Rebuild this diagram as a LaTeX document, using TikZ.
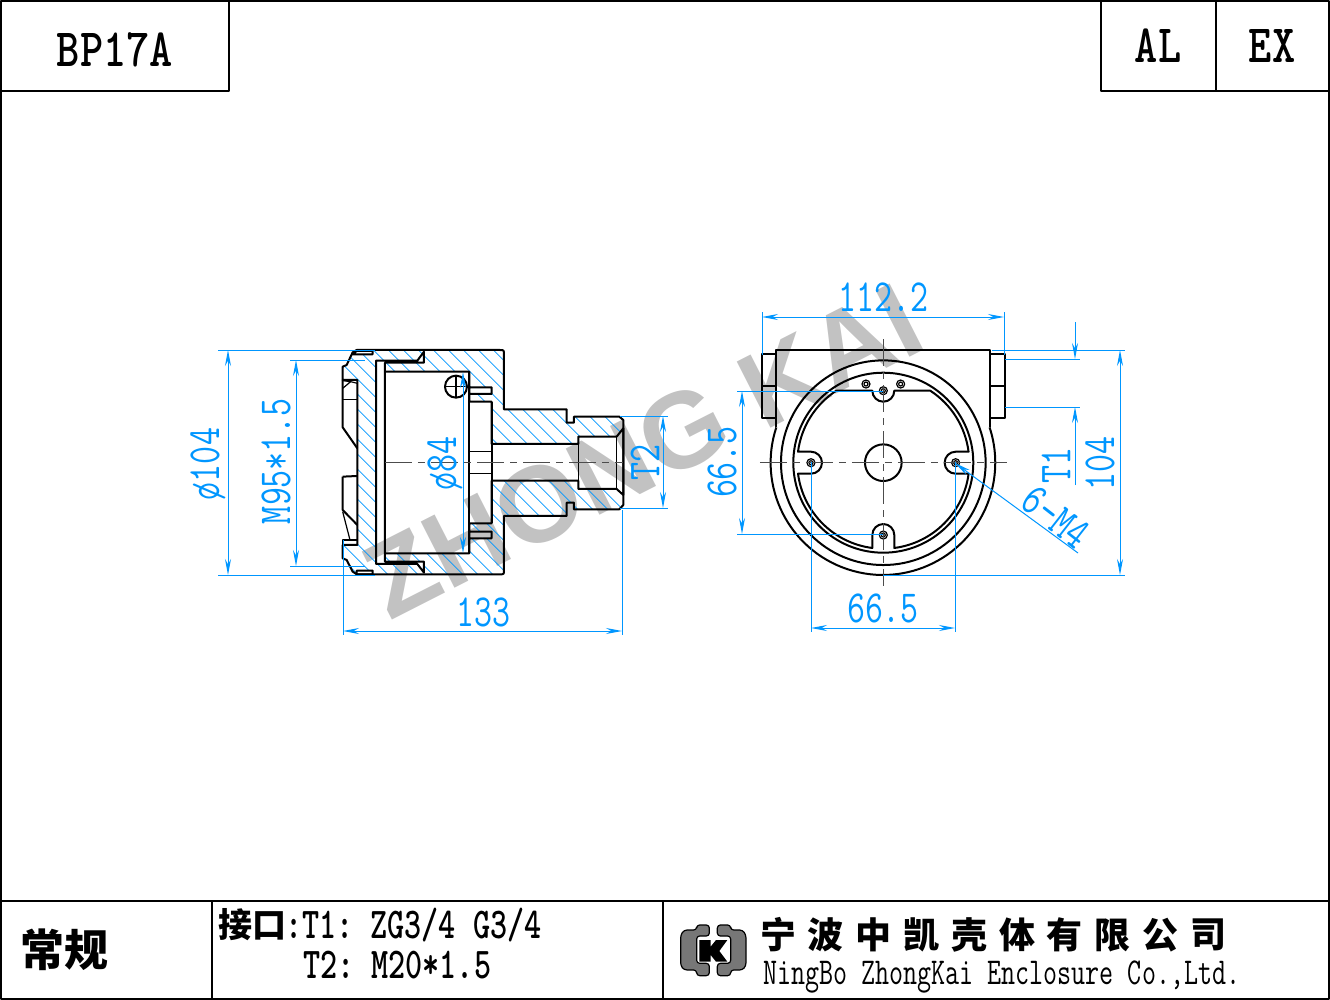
\documentclass[tikz,border=0pt]{standalone}
\usepackage{fontspec}
\newfontfamily\cjk{Noto Sans CJK SC}
\newfontfamily\wmfont{Liberation Sans}
\usetikzlibrary{arrows.meta}
\definecolor{dimblue}{HTML}{0096FF}
\definecolor{logogray}{HTML}{777777}
\definecolor{markgray}{HTML}{C2C2C2}
\tikzset{
titletext/.style={inner sep=0pt, xscale=.82, font=\ttfamily\bfseries\fontsize{54}{54}\selectfont},
dimtext/.style={inner sep=0pt, text=dimblue, xscale=.76, font=\ttfamily\fontsize{46}{46}\selectfont},
tabletext/.style={inner sep=0pt, anchor=west, xscale=.74, font=\ttfamily\bfseries\fontsize{44}{44}\selectfont},
cotext/.style={inner sep=0pt, anchor=west, xscale=.717, font=\ttfamily\fontsize{38}{38}\selectfont},
cntext/.style={inner sep=0pt, font=\cjk\bfseries\fontsize{36}{36}\selectfont},
outline/.style={line width=2pt, line join=round},
thinline/.style={line width=1.2pt, line join=round},
hatchline/.style={draw=dimblue, line width=.8pt},
centerline/.style={draw=black!70, line width=1pt, dash pattern=on 27pt off 6pt on 7pt off 6pt},
dimline/.style={draw=dimblue, line width=1pt, {Stealth[length=16pt,width=6pt]}-{Stealth[length=16pt,width=6pt]}},
leader/.style={draw=dimblue, line width=1pt, -{Stealth[length=16pt,width=6pt]}},
extline/.style={draw=dimblue, line width=.8pt},
}
\newcommand{\sectionouter}{(68,37)--(80,30)--(510,30) .. controls (522,30) .. (522,45) --(522,208)--(710,208)--(710,248)--(732,248)--(732,230)--(868,230)--(880,240)--(880,495)--(868,508)--(732,508)--(732,488)--(710,488)--(710,528)--(522,528)--(522,690) .. controls (522,703) .. (510,703) --(80,703)--(68,695)--(50,660)--(38,655)--(38,615)--(82,615)--(82,120)--(38,120)--(38,80)--(50,75)--cycle}
\newcommand{\sectioninner}{(138,62)--(262,62)--(282,35)--(282,68)--(165,68)--(165,665)--(282,665)--(282,698)--(262,672)--(138,672)--cycle
(165,95)--(418,95)--(418,185)--(485,185)--(485,312)--(745,312)--(745,290)--(860,290)--(880,265)--(880,465)--(860,447)--(745,447)--(745,422)--(485,422)--(485,550)--(418,550)--(418,640)--(165,640)--cycle
(418,142)--(485,142)--(485,162)--(418,162)--cycle
(418,575)--(485,575)--(485,595)--(418,595)--cycle
(80,33)--(128,33)--(128,43)--(68,43)--cycle
(80,692)--(128,692)--(128,703)--(80,703)--cycle}
\begin{document}
\begin{tikzpicture}[x=1pt, y=-1pt]
\useasboundingbox (0,0) rectangle (1330,1000);

%Watermark
\node[inner sep=0pt, text=markgray, rotate=27, font=\wmfont\bfseries\fontsize{108}{108}\selectfont] (mark) at (643,451) {ZHONG KAI};

%Frame
\draw[outline] (1,1) rectangle (1329,999);
\draw[outline] (229,0) -- (229,91) -- (0,91);
\draw[outline] (1101,0) -- (1101,91) -- (1330,91);
\draw[outline] (1216,0) -- (1216,91);
\draw[outline] (0,901) -- (1330,901);
\draw[outline] (212,901) -- (212,1000);
\draw[outline] (663,901) -- (663,1000);
\node[titletext] (title)  at (115,50)   {BP17A};
\node[titletext] (mat)    at (1158,46)  {AL};
\node[titletext] (grade)  at (1272,46)  {EX};

%Table
\node[cntext, font=\cjk\bfseries\fontsize{44}{44}\selectfont] (kind) at (64,950) {常规};
\node[cntext, anchor=west, font=\cjk\bfseries\fontsize{34}{34}\selectfont] (port) at (218,925) {接口};
\node[tabletext] (tone) at (285,925) {:T1:\hspace{.525em}ZG3/4\hspace{.525em}G3/4};
\node[tabletext] (ttwo) at (303,965) {T2:\hspace{.525em}M20*1.5};
\foreach \ch [count=\i from 0] in {宁,波,中,凯,壳,体,有,限,公,司}
  \node[cntext] (co\i) at ({778+47.8*\i},935) {\ch};
\node[cotext] (coname) at (763,977) {NingBo ZhongKai Enclosure Co.,Ltd.};

%Logo
\begin{scope}[shift={(670,905)}, x=.3333pt, y=-.3333pt]
\draw[thinline, fill=logogray, rounded corners=3pt] (32,90)--(42,75)--(80,75)--(80,60)--(118,60)--(118,93)--(80,93)--(80,175)--(118,175)--(118,212)--(80,212)--(80,195)--(42,195)--(32,182)--cycle;
\draw[thinline, fill=logogray, rounded corners=3pt] (228,90)--(218,75)--(182,75)--(182,60)--(142,60)--(142,93)--(182,93)--(182,175)--(142,175)--(142,212)--(182,212)--(182,195)--(218,195)--(228,182)--cycle;
\fill (88,105)--(122,105)--(122,125)--(138,105)--(172,105)--(148,138)--(172,170)--(138,170)--(122,150)--(122,170)--(88,170)--cycle;
\end{scope}

%Section view
\begin{scope}[shift={(330,340)}, x=.3333pt, y=-.3333pt]
\begin{scope}[even odd rule]
\clip \sectionouter \sectioninner;
\foreach \a in {-800,-755,...,900}
  \draw[hatchline] (\a,0) -- ({\a+800},800);
\end{scope}
\draw[outline] \sectionouter;
\draw[outline] \sectioninner;
\draw[outline] (38,120)--(38,262)--(82,325);
\draw[thinline] (38,178)--(82,178);
\draw[thinline] (38,122)--(62,125)--(38,145);
\draw[thinline] (62,125)--(82,130);
\draw[outline] (38,410)--(82,408);
\draw[outline] (38,410)--(38,510)--(82,555);
\draw[thinline] (38,515)--(60,600);
\draw[outline] (38,615)--(38,600)--(82,600);
\draw[outline] (418,95)--(418,640);
\draw[outline] (485,185)--(485,550);
\draw[thinline] (418,335)--(485,335);
\draw[thinline] (418,400)--(485,400);
\draw[thinline] (745,290)--(745,447);
\draw[thinline] (860,290)--(860,447);
\draw[outline] (378,140) circle (33);
\draw[thinline] (345,140)--(411,140);
\draw[thinline] (378,107)--(378,173);
\draw[centerline] (165,368)--(880,368);
\end{scope}

%End view
\begin{scope}[shift={(883.3,462.7)}, x=.3333pt, y=.3333pt]
\draw[outline] (-321,106)--(-321,338)--(321,338)--(321,106);
\draw[outline] (-321,106) arc[start angle=161.7, end angle=378.3, radius=337];
\draw[outline] (-321,326)--(-364,326)--(-364,133)--(-321,133);
\draw[outline] (321,326)--(364,326)--(364,133)--(321,133);
\draw[thinline] (-364,230)--(-321,230);
\draw[thinline] (321,230)--(364,230);
\draw[outline] (0,0) circle (307);
\draw[outline] (0,0) circle (270);
\draw[outline] (-141,216)--(-33,216) arc[start angle=180, end angle=360, radius=33]
  --(141,216) arc[start angle=56.86, end angle=7.35, radius=258]
  --(217,33) arc[start angle=90, end angle=270, radius=33]
  --(255.9,-33) arc[start angle=-7.35, end angle=-82.65, radius=258]
  --(33,-217) arc[start angle=0, end angle=180, radius=33]
  --(-33,-255.9) arc[start angle=-97.35, end angle=-172.65, radius=258]
  --(-217,-33) arc[start angle=-90, end angle=90, radius=33]
  --(-255.9,33) arc[start angle=172.65, end angle=123.14, radius=258]--cycle;
\draw[outline] (0,0) circle (55);
\foreach \hx/\hy in {-217/0,217/0,0/216,0/-217,-52/236,52/236} {
  \draw[thinline] (\hx,\hy) circle (12);
  \draw[thinline] (\hx,\hy) circle (6);
}
\draw[centerline] (-370,0)--(370,0);
\draw[centerline] (0,370)--(0,-370);
\end{scope}

%Dimensions left
\draw[extline] (218,350)--(375,350);
\draw[extline] (218,575)--(375,575);
\draw[dimline] (228,350)--(228,575);
\node[rotate=90, dimtext] (dsize) at (208,464) {ø104};
\draw[extline] (290,360)--(365,360);
\draw[extline] (290,566)--(365,566);
\draw[dimline] (296,360)--(296,566);
\node[rotate=90, dimtext] (thread) at (276,461) {M95*1.5};
\draw[extline] (343,540)--(343,635);
\draw[extline] (622,510)--(622,635);
\draw[dimline] (343,631)--(622,631);
\node[dimtext] (length) at (483,612) {133};
\draw[extline] (620,416)--(668,416);
\draw[extline] (620,508)--(668,508);
\draw[dimline] (663,416)--(663,508);
\node[rotate=90, dimtext] (ttwolabel) at (645,462) {T2};
\draw[dimline] (463,372)--(463,553);
\node[rotate=90, dimtext] (bore) at (445,463) {ø84};

%Dimensions right
\draw[extline] (762,312)--(762,355);
\draw[extline] (1004,312)--(1004,355);
\draw[dimline] (762,317)--(1004,317);
\node[dimtext] (width) at (883,297) {112.2};
\draw[extline] (992,350)--(1125,350);
\draw[extline] (883,575)--(1125,575);
\draw[dimline] (1120,350)--(1120,575);
\node[rotate=90, dimtext] (height) at (1100,463) {104};
\draw[extline] (1005,359)--(1080,359);
\draw[extline] (1005,407)--(1080,407);
\draw[leader] (1075,322)--(1075,359);
\draw[leader] (1075,485)--(1075,407);
\node[rotate=90, dimtext] (tonelabel) at (1056,465) {T1};
\draw[extline] (737,391)--(883,391);
\draw[extline] (737,534)--(883,534);
\draw[dimline] (742,391)--(742,534);
\node[rotate=90, dimtext] (pitchv) at (722,462) {66.5};
\draw[extline] (811,462)--(811,632);
\draw[extline] (955,462)--(955,632);
\draw[dimline] (811,628)--(955,628);
\node[dimtext] (pitchh) at (883,608) {66.5};
\draw[leader] (1078,553)--(955,463);
\node[rotate=-38, dimtext] (holes) at (1056,517) {6-M4};
\end{tikzpicture}
\end{document}
